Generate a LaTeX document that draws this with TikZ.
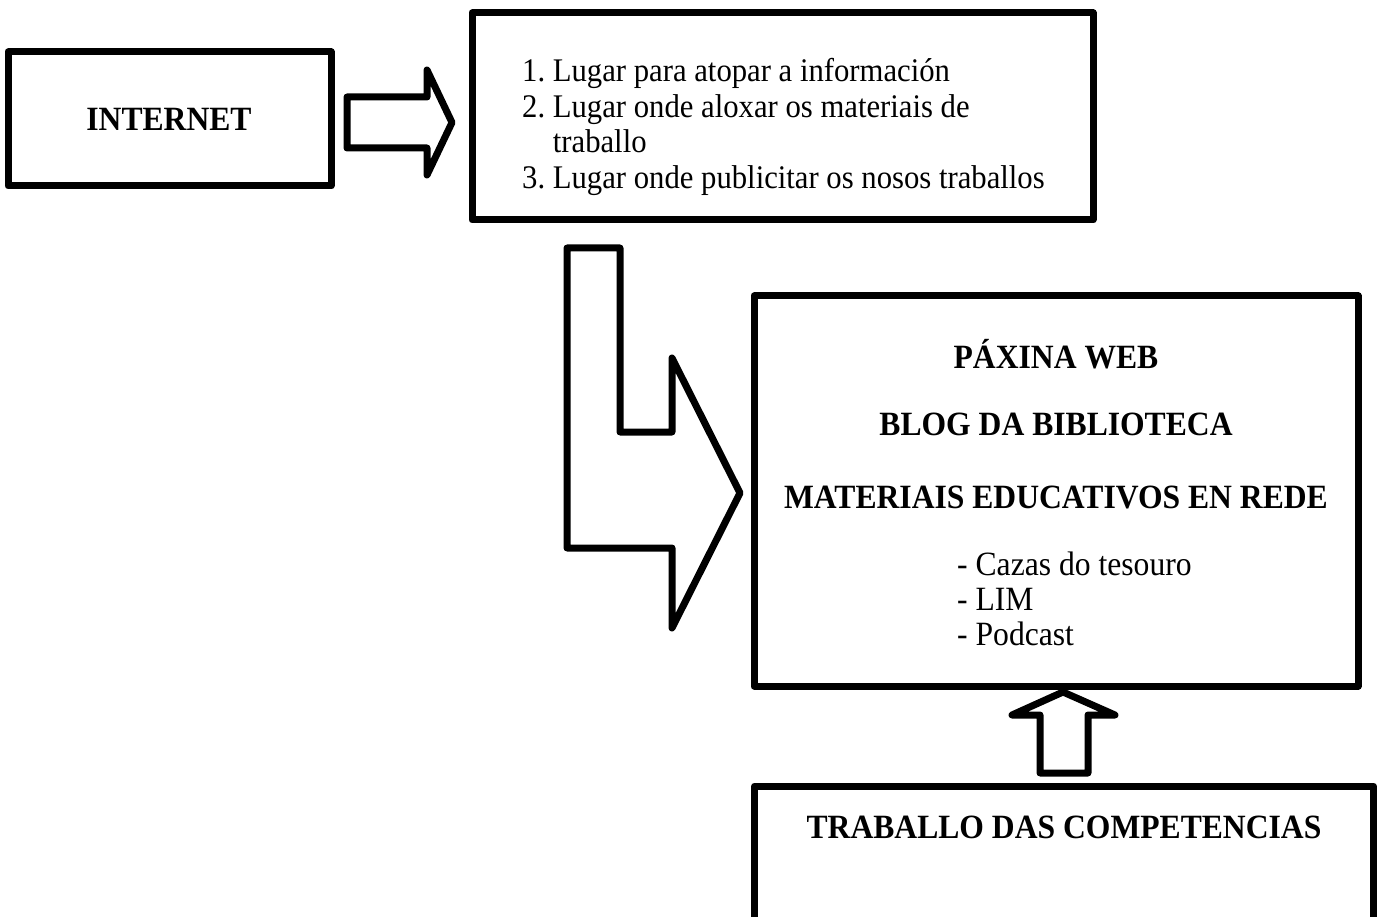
\documentclass[tikz,border=0pt]{standalone}
\usepackage{fontspec}
\setmainfont[FakeStretch=0.93]{Liberation Serif}
\begin{document}
\begin{tikzpicture}[x=1pt,y=-1pt,
  box/.style={draw,line width=7pt,line join=round,inner sep=0pt},
  blk/.style={draw,line width=7pt,line join=round,fill=white},
  big/.style={font=\fontsize{34}{35}\selectfont,inner sep=0pt},
  bigb/.style={font=\fontsize{34}{35}\selectfont\bfseries,inner sep=0pt}]
\useasboundingbox (0,0) rectangle (1379,917);
\clip (0,0) rectangle (1379,917);
% boxes
\node[box,minimum width=323pt,minimum height=134pt] (inet) at (169.5,119) {};
\node[box,minimum width=621pt,minimum height=207pt] (list) at (782.5,116.5) {};
\node[box,minimum width=604pt,minimum height=390pt] (web) at (1056,491) {};
\node[box,minimum width=619pt,minimum height=174pt] (comp) at (1064,873) {};
% texts
\node[bigb] (tinet) at (169,119) {INTERNET};
\node[big,font=\fontsize{33}{35.5}\selectfont,anchor=west] (tlist) at (522,128) {\begin{tabular}{@{}l@{~}l@{}}
1. & Lugar para atopar a información\\
2. & Lugar onde aloxar os materiais de\\
   & traballo\\
3. & Lugar onde publicitar os nosos traballos
\end{tabular}};
\node[bigb] (t1) at (1056,354) {PÁXINA WEB};
\node[bigb] (t2) at (1056,424) {BLOG DA BIBLIOTECA};
\node[bigb] (t3) at (1056,497) {MATERIAIS EDUCATIVOS EN REDE};
\node[big,anchor=west] (t4) at (957,603) {\begin{tabular}{@{}l@{}}
- Cazas do tesouro\\
- LIM\\
- Podcast
\end{tabular}};
\node[bigb] (t5) at (1064,827) {TRABALLO DAS COMPETENCIAS};
% block arrows
\draw[blk] (347,97) -- (427,97) -- (427,70) -- (452,122.5) -- (427,175) -- (427,148) -- (347,148) -- cycle;
\draw[blk] (567,248) -- (620,248) -- (620,432) -- (672,432) -- (672,358) -- (740,493) -- (672,628) -- (672,548) -- (567,548) -- cycle;
\draw[blk] (1040,773) -- (1040,715) -- (1012,715) -- (1063,692) -- (1115,715) -- (1088,715) -- (1088,773) -- cycle;
\end{tikzpicture}
\end{document}
